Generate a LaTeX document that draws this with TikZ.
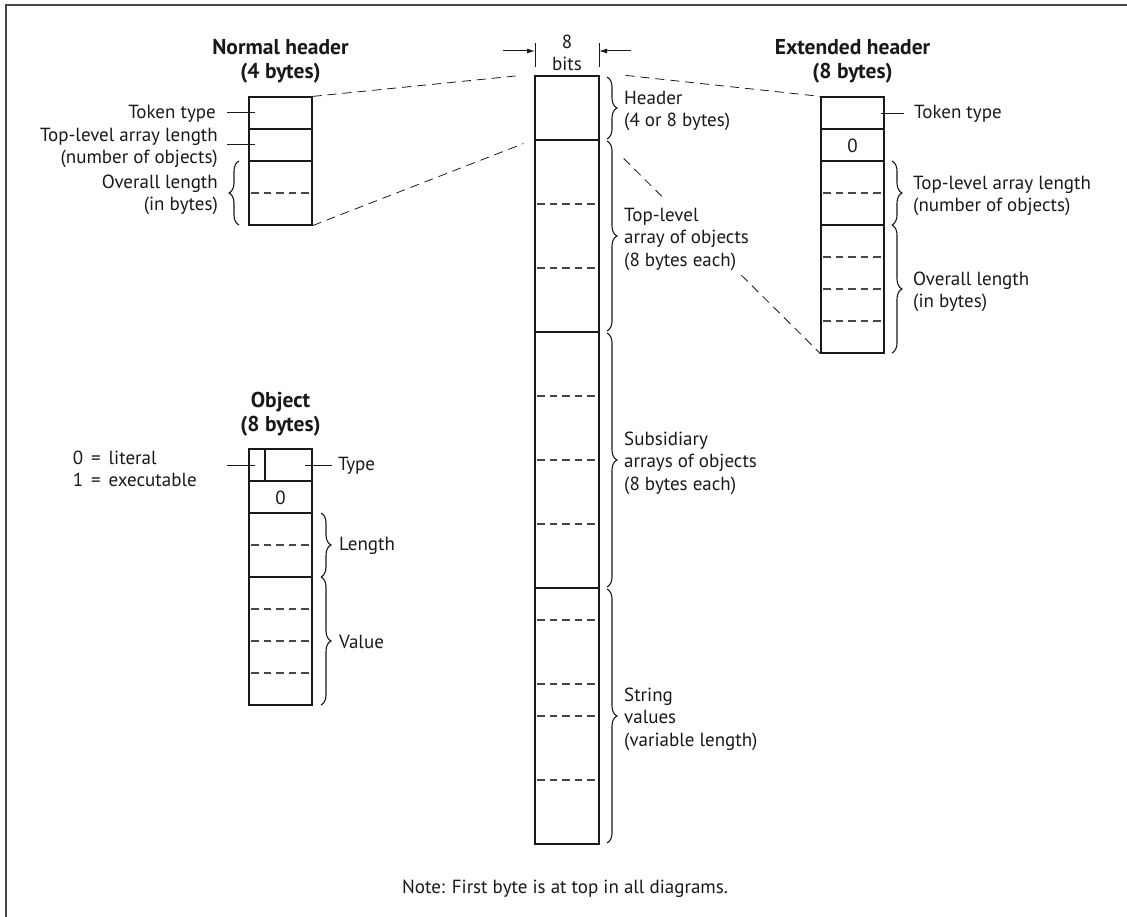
\documentclass[tikz,border=0pt]{standalone}
\usepackage{fontspec}
\setmainfont{PT Sans}
\usetikzlibrary{decorations.pathreplacing,calc,arrows.meta}
\definecolor{ink}{RGB}{25,25,25}
\definecolor{dgray}{RGB}{70,70,70}
\definecolor{framec}{RGB}{70,70,70}
\newcommand\lblfont{\fontsize{19}{22.5}\selectfont}
\newcommand\ttlfont{\fontsize{21.5}{24}\selectfont\bfseries}
\newcommand\eqgap{\hspace{0.42em}}
\begin{document}
\begin{tikzpicture}[x=1pt,y=-1pt,
  box/.style={draw=ink, line width=1.2pt, inner sep=0pt, minimum width=63pt},
  sepl/.style={draw=ink, line width=1.2pt},
  dsep/.style={draw=dgray, line width=1.1pt, dash pattern=on 7.5pt off 5pt},
  conn/.style={draw=ink, line width=0.8pt, dash pattern=on 9pt off 6pt},
  lead/.style={draw=ink, line width=1pt},
  brc/.style={draw=ink, line width=1.1pt, decorate, decoration={brace, amplitude=10pt}},
  lbl/.style={font=\lblfont, inner sep=0pt, text=ink},
  ttl/.style={font=\ttlfont, inner sep=0pt, align=center, text=ink},
  arr/.style={draw=ink, line width=1pt, -{Latex[length=8pt,width=5pt]}}
]
\useasboundingbox (0,0) rectangle (1127,917);
% frame
\draw[framec, line width=2pt] (6,917) -- (6,5) -- (1127,5);

% ---------- central column ----------
\node[box, minimum width=64pt, minimum height=64pt] (hdr) at (567,108) {};
\node[box, minimum width=64pt, minimum height=192pt] (tla) at (567,236) {};
\node[box, minimum width=64pt, minimum height=256pt] (sub) at (567,460) {};
\node[box, minimum width=64pt, minimum height=256pt] (str) at (567,716) {};
\foreach \yy in {204,268,396,460,524,620,684,716,780}
  \draw[dsep] (537,\yy) -- (597,\yy);

% 8 bits
\node[lbl, align=center] (bits) at (567,53) {8\\bits};
\draw[lead] (535,43) -- (535,67);
\draw[lead] (599,43) -- (599,67);
\coordinate (al) at (503,51);
\coordinate (ar) at (631,51);
\coordinate (alt) at (535,51);
\coordinate (art) at (599,51);
\draw[arr] (al) -- (alt);
\draw[arr] (ar) -- (art);

% braces right of column
\draw[brc] (607,77) -- (607,139);
\draw[brc] (607,141) -- (607,331);
\draw[brc] (607,333) -- (607,587);
\draw[brc] (607,589) -- (607,843);
\node[lbl, align=left, anchor=west] (lhdr) at (624,111) {Header\\(4 or 8 bytes)};
\node[lbl, align=left, anchor=west] (ltla) at (624,239) {Top-level\\array of objects\\(8 bytes each)};
\node[lbl, align=left, anchor=west] (lsub) at (624,463) {Subsidiary\\arrays of objects\\(8 bytes each)};
\node[lbl, align=left, anchor=west] (lstr) at (624,719) {String\\values\\(variable length)};

% ---------- normal header ----------
\node[ttl] (tnh) at (280.5,61) {Normal header\\(4 bytes)};
\node[box, minimum height=128pt] (nh) at (280.5,161) {};
\draw[sepl] (249,129) -- (312,129);
\draw[sepl] (249,161) -- (312,161);
\draw[dsep] (251,193) -- (310,193);
\draw[lead] (227,113) -- (255,113);
\draw[lead] (227,145) -- (255,145);
\node[lbl, anchor=east] (ltt1) at (216,114) {Token type};
\node[lbl, align=right, anchor=east] (ltl1) at (218,148) {Top-level array length\\(number of objects)};
\node[lbl, align=right, anchor=east] (lol1) at (218,195) {Overall length\\(in bytes)};
\draw[brc] (239,225) -- (239,161);

% connectors to header
\draw[conn] (nh.north east) -- ($(hdr.north west)+(-13,0)$);
\draw[conn] (nh.south east) -- ($(hdr.south west)+(-11,3)$);

% ---------- extended header ----------
\node[ttl] (teh) at (852.5,61) {Extended header\\(8 bytes)};
\node[box, minimum height=256pt] (eh) at (852.5,225) {};
\draw[sepl] (821,129) -- (884,129);
\draw[sepl] (821,161) -- (884,161);
\draw[sepl] (821,225) -- (884,225);
\foreach \yy in {193,257,289,321}
  \draw[dsep] (823,\yy) -- (882,\yy);
\node[lbl] (z1) at (852.5,146) {0};
\draw[lead] (881,114) -- (904,114);
\node[lbl, anchor=west] (ltt2) at (914,114) {Token type};
\draw[brc] (892,161) -- (892,225);
\draw[brc] (892,225) -- (892,353);
\node[lbl, align=left, anchor=west] (ltl2) at (913,196) {Top-level array length\\(number of objects)};
\node[lbl, align=left, anchor=west] (lol2) at (913,292) {Overall length\\(in bytes)};

\draw[conn] ($(hdr.north east)+(26,0)$) -- (eh.north west);
\coordinate (xa) at ($(tla.north east)+(24,19)$);
\draw[conn] (xa) -- ($(xa)!0.196!(eh.south west)$);
\draw[conn] ($(xa)!0.598!(eh.south west)$) -- (eh.south west);

% ---------- object ----------
\node[ttl] (tob) at (280.5,414) {Object\\(8 bytes)};
\node[box, minimum height=256pt] (obj) at (280.5,577) {};
\draw[sepl] (249,481) -- (312,481);
\draw[sepl] (249,513) -- (312,513);
\draw[sepl] (249,577) -- (312,577);
\draw[sepl] (265,449) -- (265,481);
\foreach \yy in {545,609,641,673}
  \draw[dsep] (251,\yy) -- (310,\yy);
\node[lbl] (z2) at (280.5,498) {0};
\draw[lead] (227,465) -- (255,465);
\draw[lead] (305,465) -- (332,465);
\node[lbl, anchor=west] (ltype) at (338,466) {Type};
\node[lbl, align=left, anchor=east] (lflag) at (197,469) {0\eqgap=\eqgap literal\\1\eqgap=\eqgap executable};
\draw[brc] (321,513) -- (321,577);
\draw[brc] (321,577) -- (321,705);
\node[lbl, anchor=west] (llen) at (339,546) {Length};
\node[lbl, anchor=west] (lval) at (339,642) {Value};

% note
\node[lbl] (note) at (565,889) {Note: First byte is at top in all diagrams.};
\end{tikzpicture}
\end{document}
